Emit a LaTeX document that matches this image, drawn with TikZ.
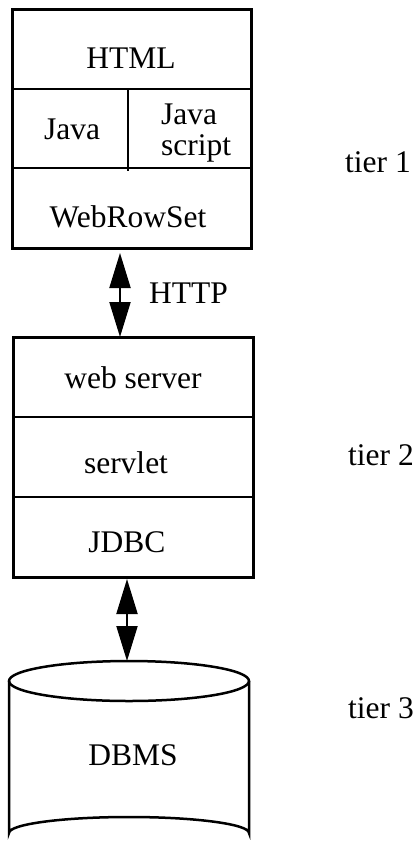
\documentclass[tikz,border=0pt]{standalone}
\usepackage{fontspec}
\setmainfont{Liberation Serif}
\usetikzlibrary{arrows.meta}
\begin{document}
\begin{tikzpicture}[x=1pt,y=-1pt,
  lbl/.style={font=\fontsize{31.5}{31}\selectfont, anchor=base, inner sep=0pt},
  lblw/.style={font=\fontsize{31.5}{31}\selectfont, anchor=base west, inner sep=0pt},
  frame/.style={line width=3pt},
  divider/.style={line width=2.5pt},
  link/.style={line width=2pt, {Triangle[length=35pt,width=21pt]}-{Triangle[length=35pt,width=21pt]}}]
\useasboundingbox (0,0) rectangle (415,849);
\clip (0,0) rectangle (415,849);
% tier 1 box
\draw[frame] (12,9) rectangle (251,248);
\draw[divider] (12,89) -- (251,89);
\draw[divider] (12,168) -- (251,168);
\draw[divider] (128,89) -- (128,171);
\node[lbl] (html) at (131,68) {HTML};
\node[lbl] (java) at (72,139) {Java};
\node[lblw] (js1) at (161,124) {Java};
\node[lblw] (js2) at (161,155) {script};
\node[lbl] (wrs) at (128,227) {WebRowSet};
% tier 2 box
\draw[frame] (13,337) rectangle (253,577);
\draw[divider] (13,417) -- (253,417);
\draw[divider] (13,497) -- (253,497);
\node[lbl] (ws) at (133,388) {web server};
\node[lbl] (srv) at (126,473) {servlet};
\node[lbl] (jdbc) at (127,552) {JDBC};
% cylinder
\draw[divider] (129,681) ellipse [x radius=120, y radius=20];
\draw[divider] (9,681) -- (9,833) arc[start angle=180, end angle=360, x radius=120, y radius=16] -- (249,681);
\node[lbl] (dbms) at (133,765) {DBMS};
% connectors
\coordinate (a1) at (120,253);
\coordinate (a2) at (120,337);
\coordinate (b1) at (127,579);
\coordinate (b2) at (127,661);
\draw[link] (a1) -- (a2);
\draw[link] (b1) -- (b2);
\node[lblw] (http) at (149,303) {HTTP};
% tier labels
\node[lblw] (t1) at (345,172) {tier 1};
\node[lblw] (t2) at (348,465) {tier 2};
\node[lblw] (t3) at (348,718) {tier 3};
\end{tikzpicture}
\end{document}
